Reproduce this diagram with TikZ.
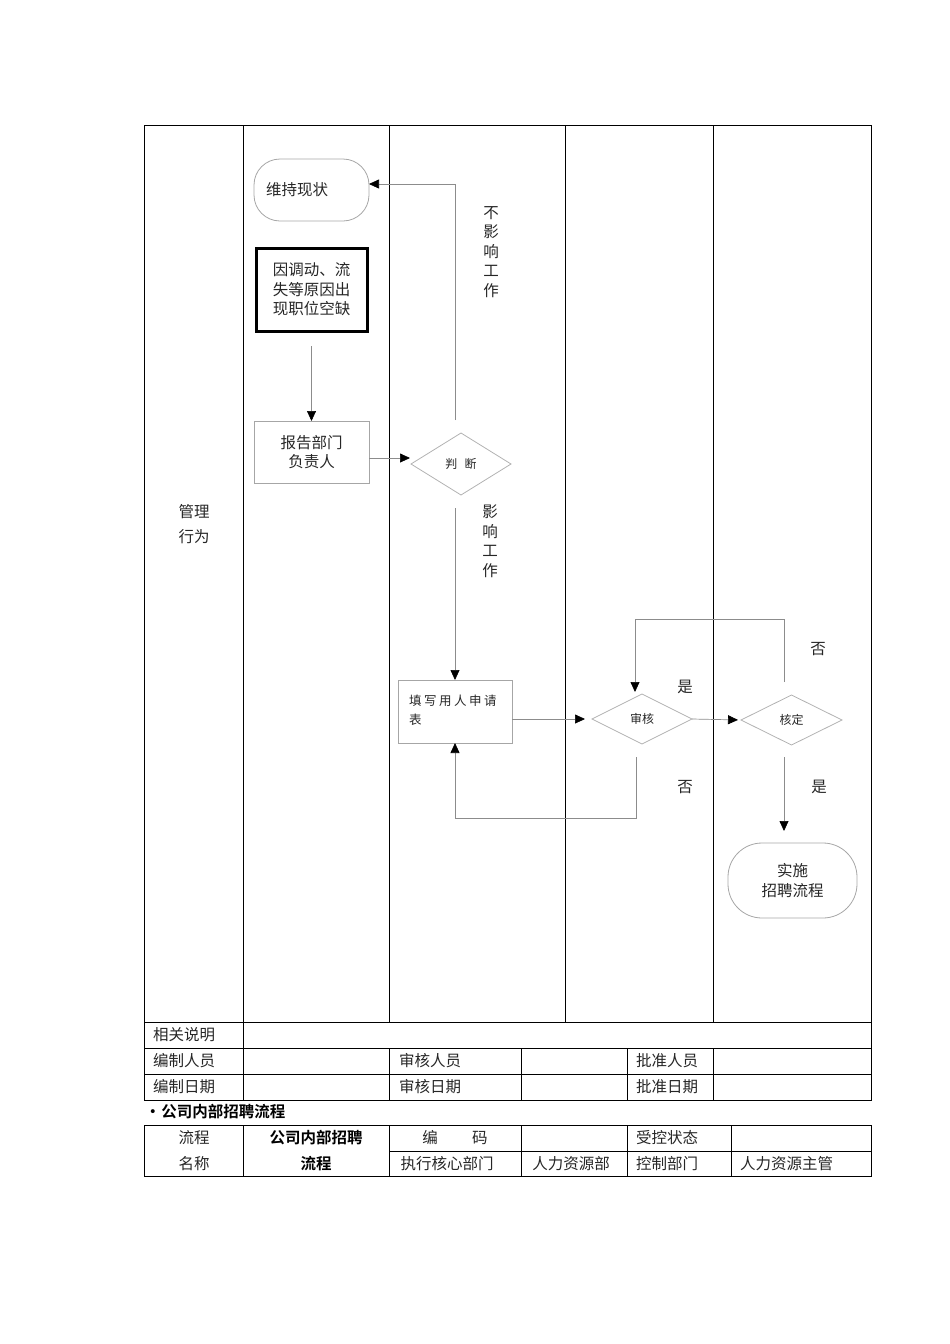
\documentclass[tikz,border=0pt]{standalone}
\usepackage{fontspec}
\setmainfont{Noto Sans CJK SC}[BoldFont={Noto Sans CJK SC Bold}]
\newfontfamily\spaced{Noto Sans CJK SC}[LetterSpace=20]
\usetikzlibrary{shapes.geometric,arrows.meta}
\tikzset{
  base/.style={font=\fontsize{15.5}{19.5}\selectfont, text=black!85},
  small/.style={font=\fontsize{12}{15}\selectfont, text=black!85},
  tbl/.style={draw=black, line width=0.9pt},
  box/.style={draw=black!35, line width=0.8pt, rectangle},
  rnd/.style={draw=black!35, line width=0.8pt, rectangle},
  dia/.style={draw=black!30, line width=0.8pt, diamond},
  conn/.style={draw=black!45, line width=0.7pt},
  arr/.style={conn, -{Triangle[length=10pt,width=9pt,color=black]}},
  vlabel/.style={base, align=center, font=\fontsize{15.5}{19.5}\selectfont},
}
\begin{document}
\begin{tikzpicture}[x=1pt,y=-1pt, every node/.style={inner sep=0pt, outer sep=0pt}]
\useasboundingbox (0,0) rectangle (950,1344);

% ---------- swim lanes ----------
\draw[tbl] (144,125) rectangle (871,1100);
\foreach \x in {243,389,565,713} \draw[tbl] (\x,125) -- (\x,1022);
\draw[tbl] (144,1022) -- (871,1022);
\draw[tbl] (144,1048) -- (871,1048);
\draw[tbl] (144,1074) -- (871,1074);
\draw[tbl] (243,1022) -- (243,1100);
\foreach \x in {389,521,627,713} \draw[tbl] (\x,1048) -- (\x,1100);

% ---------- second table ----------
\draw[tbl] (144,1125) rectangle (871,1176);
\draw[tbl] (389,1151) -- (871,1151);
\foreach \x in {243,389,521,627,731} \draw[tbl] (\x,1125) -- (\x,1176);

% ---------- lane label ----------
\node[base, align=center, font=\fontsize{15.5}{25}\selectfont] (lane) at (194,524) {管理\\行为};

% ---------- flow nodes ----------
\node[rnd, rounded corners=26pt, minimum width=115, minimum height=62, text width=91, inner xsep=12pt, align=left, base] (keep) at (311.5,190) {\raisebox{3pt}{维持现状}};
\node[box, draw=black, line width=3pt, minimum width=111, minimum height=83, align=center, base] (vac) at (311.5,289.5) {因调动、流\\失等原因出\\现职位空缺};
\node[box, minimum width=115, minimum height=62, align=center, base] (report) at (311.5,452) {报告部门\\负责人};
\node[dia, minimum width=100, minimum height=62, small] (judge) at (461,464) {判\hspace{0.6em}断};
\node[box, minimum width=114, minimum height=63, text width=92, inner xsep=11pt, align=left, font=\spaced\fontsize{12.5}{19}\selectfont, text=black!85] (fill) at (455,711.5) {\raisebox{3pt}{填写用人申请}\\\raisebox{3pt}{表}};
\node[dia, minimum width=100, minimum height=50, small] (audit) at (642,719) {审核};
\node[dia, minimum width=101, minimum height=50, small] (approve) at (791.5,720) {核定};
\node[rnd, rounded corners=34pt, minimum width=129, minimum height=75, align=center, base] (impl) at (792.5,880.5) {实施\\招聘流程};

% ---------- connectors ----------
\draw[arr, shorten <=15pt] (vac.south) -- (report.north);
\draw[arr] ([yshift=-6pt]report.east) -- ++(41,0);
\draw[arr] ([xshift=-6pt,yshift=13pt]judge.north) |- ([yshift=6pt]keep.east);
\draw[arr] ([xshift=-6pt,yshift=-13pt]judge.south) -- (fill.north);
\draw[arr, shorten >=7pt] ([yshift=-7.5pt]fill.east) -- (audit.west);
\draw[arr, shorten >=3pt] (audit.east) -- (approve.west);
\draw[arr, shorten >=2pt] ([xshift=-7.5pt,yshift=13pt]approve.north) -- ++(0,-63) -| ([xshift=-7pt]audit.north);
\draw[arr] ([xshift=-6pt,yshift=-13pt]audit.south) -- ++(0,61) -| (fill.south);
\draw[arr] ([xshift=-7.5pt,yshift=-12pt]approve.south) -- ([xshift=-8.5pt,yshift=12pt]impl.north);

% ---------- connector labels ----------
\node[vlabel] (l1) at (491,252) {不\\影\\响\\工\\作};
\node[vlabel] (l2) at (490,541) {影\\响\\工\\作};
\node[base] (l3) at (685,687) {是};
\node[base] (l4) at (818,649) {否};
\node[base] (l5) at (685,787) {否};
\node[base] (l6) at (819,787) {是};

% ---------- table texts ----------
\node[base, anchor=west] (r1) at (153,1035) {相关说明};
\node[base, anchor=west] (r2) at (153,1061) {编制人员};
\node[base, anchor=west] (r3) at (153,1087) {编制日期};
\node[base, anchor=west] (r4) at (399,1061) {审核人员};
\node[base, anchor=west] (r5) at (399,1087) {审核日期};
\node[base, anchor=west] (r6) at (636,1061) {批准人员};
\node[base, anchor=west] (r7) at (636,1087) {批准日期};

\node[anchor=west, font=\bfseries\fontsize{15.5}{19}\selectfont] (title) at (145,1112) {\textbullet\hspace{1pt}公司内部招聘流程};

\node[base, align=center, font=\fontsize{15.5}{26}\selectfont] (c1) at (194,1151) {流程\\名称};
\node[align=center, font=\bfseries\fontsize{15.5}{26}\selectfont] (c2) at (316,1151) {公司内部招聘\\流程};
\node[base] (c3) at (455,1138) {编\hspace{2.2em}码};
\node[base] (c4) at (447,1164) {执行核心部门};
\node[base] (c5) at (571,1164) {人力资源部};
\node[base, anchor=west] (c6) at (636,1138) {受控状态};
\node[base, anchor=west] (c7) at (636,1164) {控制部门};
\node[base, anchor=west] (c8) at (740,1164) {人力资源主管};
\end{tikzpicture}
\end{document}
